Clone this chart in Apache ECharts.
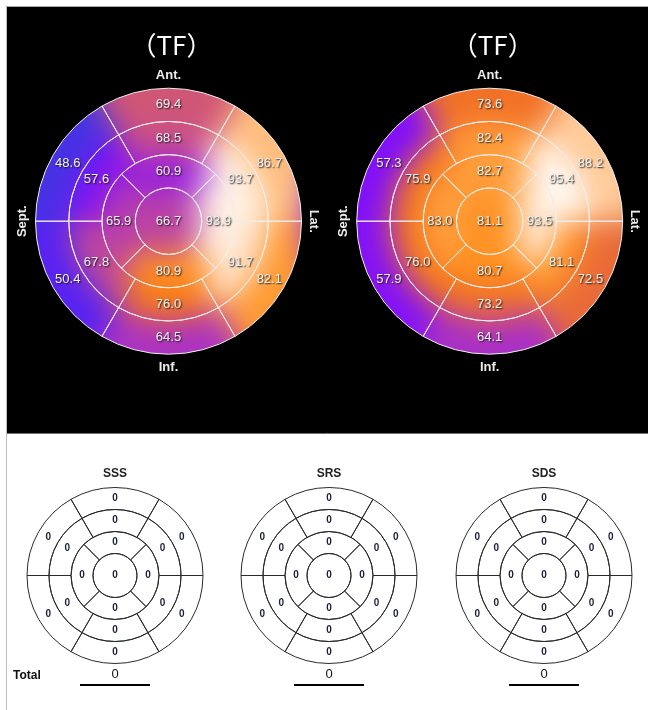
<!DOCTYPE html>
<html>
<head>
<meta charset="utf-8">
<title>Polar maps</title>
<script src="https://cdn.jsdelivr.net/npm/echarts@6/dist/echarts.min.js"></script>
<style>
  html, body { margin: 0; padding: 0; background: #fff; }
  #wrap { position: relative; width: 648px; height: 710px; overflow: hidden; }
  #panel { position: absolute; left: 7px; top: 7px; width: 641px; height: 426px; background: #000; }
  #heat {
    position: absolute; left: 0; top: 0; width: 648px; height: 440px;
    filter: blur(15px);
    clip-path: path('M35.5 221.2 A133 133 0 1 0 301.5 221.2 A133 133 0 1 0 35.5 221.2 Z M356.7 221.2 A133 133 0 1 0 622.7 221.2 A133 133 0 1 0 356.7 221.2 Z');
  }
  #main { position: absolute; left: 0; top: 0; width: 648px; height: 710px; }
</style>
</head>
<body>
<div id="wrap">
  <div id="panel"></div>
  <div id="heat"></div>
  <div id="main"></div>
</div>
<script>
// segment order: apex, apical (ant, lat, inf, sept), mid and basal clockwise from ant
const leftTF = [66.7, 60.9, 93.9, 80.9, 65.9, 68.5, 93.7, 91.7, 76.0, 67.8, 57.6, 69.4, 86.7, 82.1, 64.5, 50.4, 48.6]
const rightTF = [81.1, 82.7, 93.5, 80.7, 83.0, 82.4, 95.4, 81.1, 73.2, 76.0, 75.9, 73.6, 88.2, 72.5, 64.1, 57.9, 57.3]
const sss = [0, 0, 0, 0, 0, 0, 0, 0, 0, 0, 0, 0, 0, 0, 0, 0, 0]
const srs = [0, 0, 0, 0, 0, 0, 0, 0, 0, 0, 0, 0, 0, 0, 0, 0, 0]
const sds = [0, 0, 0, 0, 0, 0, 0, 0, 0, 0, 0, 0, 0, 0, 0, 0, 0]
const totals = [0, 0, 0]
const scoreNames = ['SSS', 'SRS', 'SDS']
const mapTitle = '（TF）'
const walls = ['Ant.', 'Lat.', 'Inf.', 'Sept.']

const ringCounts = [1, 4, 6, 6]
const segs = []
ringCounts.forEach((n, ring) => {
  for (let k = 0; k < n; k++) {
    segs.push({ ring: ring, angle: (90 - k * 360 / n + 360) % 360, span: 360 / n })
  }
})
const toData = vals => vals.map((v, i) => [segs[i].ring, segs[i].angle, v, segs[i].span])

const topMaps = [{ cx: 168.5, cy: 221.2, r: 133 }, { cx: 489.7, cy: 221.2, r: 133 }]
const bottomMaps = [{ cx: 115, cy: 575.5, r: 88 }, { cx: 329, cy: 575.5, r: 88 }, { cx: 544, cy: 575.5, r: 88 }]

const palette = ['#2450c8', '#5a20f4', '#7c0cff', '#9a20e0', '#c24a98', '#f07028', '#ff8404', '#ffac5c', '#ffdcbc', '#ffffff']

function polarSet(list) {
  return {
    polar: list.map(m => ({ center: [m.cx, m.cy], radius: [0, m.r] })),
    angleAxis: list.map((m, i) => ({
      polarIndex: i, type: 'value', min: 0, max: 360, startAngle: 0, clockwise: false, show: false
    })),
    radiusAxis: list.map((m, i) => ({ polarIndex: i, type: 'value', min: 0, max: 4, show: false }))
  }
}

function segmentRenderer(opt) {
  return function (params, api) {
    const cs = params.coordSys
    const ring = api.value(0)
    const ang = api.value(1)
    const span = api.value(3)
    const dist = p => Math.hypot(p[0] - cs.cx, p[1] - cs.cy)
    const r0 = dist(api.coord([ring, ang]))
    const r1 = dist(api.coord([ring + 1 + (opt.bleed && ring === 3 ? opt.bleed : 0), ang]))
    const mid = api.coord([ring === 0 ? 0 : ring + 0.5, ang])
    const theta = Math.atan2(mid[1] - cs.cy, mid[0] - cs.cx)
    const half = span / 2 * Math.PI / 180
    const el = span >= 360
      ? { type: 'circle', shape: { cx: cs.cx, cy: cs.cy, r: r1 } }
      : { type: 'sector', shape: { cx: cs.cx, cy: cs.cy, r0: r0, r: r1, startAngle: theta - half, endAngle: theta + half, clockwise: true } }
    if (opt.fill) {
      const c = api.visual('color')
      el.style = { fill: c, stroke: c, lineWidth: 1 }
      return el
    }
    el.style = { fill: 'none', stroke: opt.stroke, lineWidth: 1 }
    const label = {
      type: 'text', x: mid[0], y: mid[1],
      style: Object.assign({
        text: opt.format(api.value(2)), fill: opt.color, font: opt.font,
        align: 'center', verticalAlign: 'middle'
      }, opt.shadow || {})
    }
    return { type: 'group', children: [el, label] }
  }
}

// blurred colour layer
const heat = echarts.init(document.getElementById('heat'), null, { renderer: 'canvas' })
heat.setOption(Object.assign(polarSet(topMaps), {
  animation: false,
  visualMap: {
    type: 'continuous', show: false, min: 45, max: 96, dimension: 2,
    seriesIndex: [0, 1], inRange: { color: palette }
  },
  series: [leftTF, rightTF].map((vals, i) => ({
    type: 'custom', coordinateSystem: 'polar', polarIndex: i, silent: true,
    dimensions: ['ring', 'angle', 'value', 'span'],
    encode: { radius: 0, angle: 1 },
    renderItem: segmentRenderer({ fill: true, bleed: 1.5 }),
    data: toData(vals)
  }))
}))

// lines, numbers and texts
const allMaps = topMaps.concat(bottomMaps)
const topStyle = {
  stroke: '#eeeeee', color: '#f2f2f2', font: '13px "Liberation Sans", Arial, sans-serif',
  format: v => v.toFixed(1),
  shadow: { textShadowColor: 'rgba(20,20,20,0.95)', textShadowBlur: 1.5, textShadowOffsetX: 1, textShadowOffsetY: 1 }
}
const bottomStyle = {
  stroke: '#2a2a2a', color: '#1a1f3a', font: 'bold 10px "Liberation Sans", Arial, sans-serif',
  format: v => String(v)
}

const graphic = [
  { type: 'line', shape: { x1: 6.5, y1: 6, x2: 6.5, y2: 710 }, style: { stroke: '#bdbdbd', lineWidth: 1 } },
  { type: 'line', shape: { x1: 6, y1: 6.5, x2: 648, y2: 6.5 }, style: { stroke: '#a8a8a8', lineWidth: 1 } },
  { type: 'line', shape: { x1: 7, y1: 433.5, x2: 648, y2: 433.5 }, style: { stroke: '#707070', lineWidth: 1 } }
]
topMaps.forEach(m => {
  graphic.push({
    type: 'text', x: m.cx + 3, y: 45,
    style: { text: mapTitle, fill: '#ffffff', font: '26px "Noto Sans CJK JP", sans-serif', align: 'center', verticalAlign: 'middle' }
  })
  const off = m.r + 13
  const pos = [[0, -off, 0], [off - 1, 0, -Math.PI / 2], [0, off, 0], [-off, 0, Math.PI / 2]]
  walls.forEach((w, i) => {
    graphic.push({
      type: 'text', x: m.cx + pos[i][0], y: m.cy + pos[i][1], rotation: pos[i][2],
      style: { text: w, fill: '#ececec', font: 'bold 13px "Liberation Sans", Arial, sans-serif', align: 'center', verticalAlign: 'middle' }
    })
  })
})
bottomMaps.forEach((m, i) => {
  graphic.push({
    type: 'text', x: m.cx, y: 474,
    style: { text: scoreNames[i], fill: '#222', font: 'bold 12px "Liberation Sans", Arial, sans-serif', align: 'center', verticalAlign: 'middle' }
  })
  graphic.push({
    type: 'text', x: m.cx, y: 674,
    style: { text: String(totals[i]), fill: '#111', font: '13px "Liberation Sans", Arial, sans-serif', align: 'center', verticalAlign: 'middle' }
  })
  graphic.push({
    type: 'line', shape: { x1: m.cx - 35, y1: 685, x2: m.cx + 35, y2: 685 }, style: { stroke: '#000', lineWidth: 2 }
  })
})
graphic.push({
  type: 'text', x: 13, y: 676,
  style: { text: 'Total', fill: '#111', font: 'bold 12px "Liberation Sans", Arial, sans-serif', align: 'left', verticalAlign: 'middle' }
})

const main = echarts.init(document.getElementById('main'), null, { renderer: 'canvas' })
main.setOption(Object.assign(polarSet(allMaps), {
  animation: false,
  backgroundColor: 'transparent',
  series: [leftTF, rightTF, sss, srs, sds].map((vals, i) => ({
    type: 'custom', coordinateSystem: 'polar', polarIndex: i, silent: true,
    dimensions: ['ring', 'angle', 'value', 'span'],
    encode: { radius: 0, angle: 1 },
    renderItem: segmentRenderer(i < 2 ? topStyle : bottomStyle),
    data: toData(vals)
  })),
  graphic: graphic
}))
</script>
</body>
</html>
